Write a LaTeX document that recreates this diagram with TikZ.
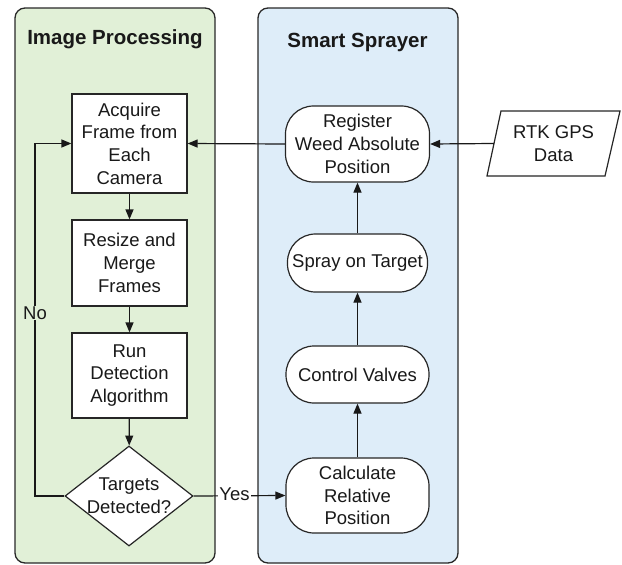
\documentclass[tikz,border=0pt]{standalone}
\usepackage{fontspec}
\setmainfont{Liberation Sans}
\usetikzlibrary{arrows.meta,shapes.geometric}
\definecolor{pgreen}{RGB}{225,240,215}
\definecolor{pblue}{RGB}{222,237,249}
\definecolor{edge}{RGB}{40,40,40}
\begin{document}
\begin{tikzpicture}[x=1pt,y=-1pt,
  panel/.style={draw=edge,line width=1.3pt,rounded corners=10pt},
  ptitle/.style={font=\fontsize{20.5}{24}\selectfont\bfseries,text=black!90},
  txt/.style={font=\fontsize{18.5}{22.7}\selectfont,align=center,text=black!90},
  procbox/.style={txt,draw=black!85,fill=white,line width=1.2pt,minimum width=115pt,inner sep=0pt},
  termbox/.style={txt,draw=black!85,fill=white,line width=1.2pt,rounded corners=28pt,minimum width=143pt,inner sep=0pt},
  decbox/.style={draw=black!85,fill=white,line width=1.2pt,diamond,minimum width=128pt,minimum height=100pt,inner sep=0pt},
  arr/.style={draw=black!90,line width=1.2pt,-{Triangle[length=10pt,width=8pt]}},
  lbl/.style={txt,inner sep=1pt}
]
\useasboundingbox (0,0) rectangle (622,565);
% panels
\draw[panel,fill=pgreen] (15,8) rectangle (215,563);
\draw[panel,fill=pblue] (258,8) rectangle (458,563);
\node[ptitle] (t1) at (115,39) {Image Processing};
\node[ptitle] (t2) at (357.5,42) {Smart Sprayer};
% image processing
\node[procbox,minimum height=99pt] (acq) at (129.5,143.5) {Acquire\\Frame from\\Each\\Camera};
\node[procbox,minimum height=86pt] (res) at (129.5,263) {Resize and\\Merge\\Frames};
\node[procbox,minimum height=85pt] (run) at (129.5,375.5) {Run\\Detection\\Algorithm};
\node[decbox,label={[txt]center:Targets\\Detected?}] (dec) at (129,496) {};
% smart sprayer
\node[termbox,minimum width=144pt,minimum height=76pt] (reg) at (357.5,144) {Register\\Weed Absolute\\Position};
\node[termbox,minimum width=140pt,minimum height=58pt] (spray) at (357.5,263) {Spray on Target};
\node[termbox,minimum height=57pt] (ctrl) at (357.5,374.5) {Control Valves};
\node[termbox,minimum height=75pt] (calc) at (357.5,495.5) {Calculate\\Relative\\Position};
% RTK GPS data
\draw[draw=black!85,fill=white,line width=1.2pt] (487,176) -- (605,176) -- (620,111) -- (501,111) -- cycle;
\node[txt] (rtk) at (553.5,143.5) {RTK GPS\\Data};
\coordinate (rtkin) at (494,143.5);
\coordinate (loop) at (35,143.5);
% connectors
\draw[arr] (acq) -- (res);
\draw[arr] (res) -- (run);
\draw[arr] (run) -- (dec);
\draw[arr] (calc) -- (ctrl);
\draw[arr] (ctrl) -- (spray);
\draw[arr] (spray) -- (reg);
\draw[arr] (rtkin) -- (reg.east);
\draw[arr] (reg.west) -- (acq.east);
\draw[arr] (dec.west) -| (loop) -- (acq.west);
\draw[arr] (dec.east) -- (calc.west);
\node[lbl,fill=pgreen] (no) at (35,313) {No};
\node[lbl,fill=white] (yes) at (234.5,494) {Yes};
\end{tikzpicture}
\end{document}
